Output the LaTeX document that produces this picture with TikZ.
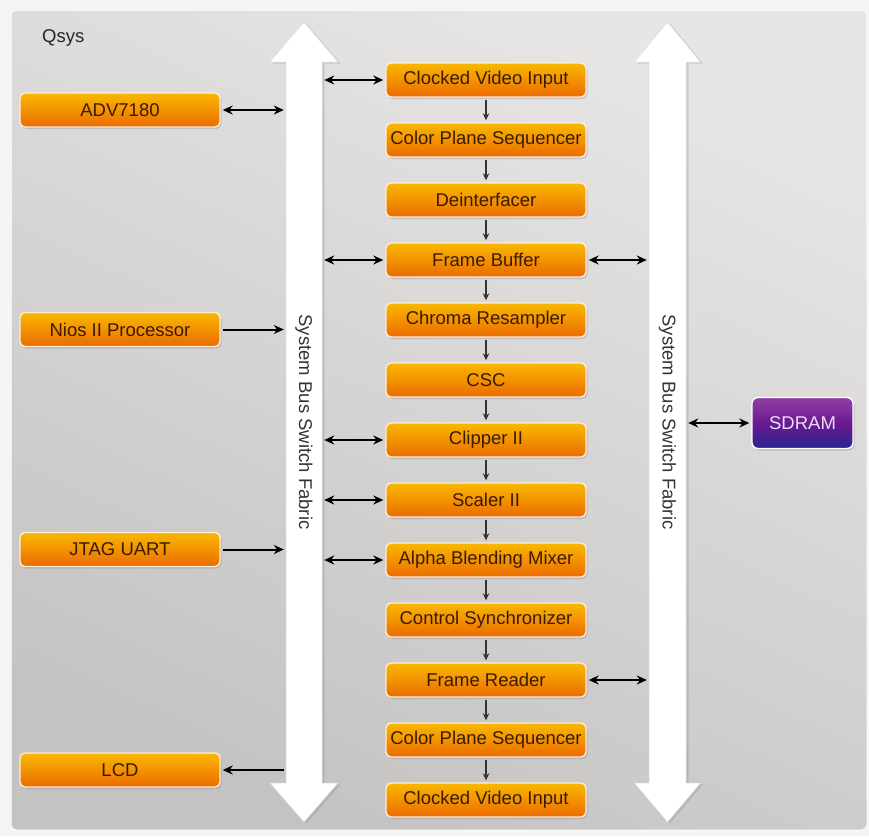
\documentclass[tikz,border=0pt]{standalone}
\usepackage{fontspec}
\setmainfont{Liberation Sans}
\usetikzlibrary{arrows.meta,shadows,calc}

\definecolor{pagebg}{HTML}{F4F4F4}
\definecolor{paneltop}{HTML}{E8E6E4}
\definecolor{panelbot}{HTML}{C4C3C1}
\definecolor{orangetop}{HTML}{F8B800}
\definecolor{orangemid}{HTML}{F39200}
\definecolor{orangebot}{HTML}{E96A00}
\definecolor{boxtext}{HTML}{3A1B00}
\definecolor{purpletop}{HTML}{923FA3}
\definecolor{purplemid}{HTML}{6A1A92}
\definecolor{purplebot}{HTML}{2A2390}
\definecolor{sdramtext}{HTML}{EBDDF5}
\definecolor{linkgray}{HTML}{333333}

\begin{document}
\begin{tikzpicture}[x=1pt,y=-1pt,
  lbl/.style={font=\fontsize{18.5}{22}\selectfont},
  ipblock/.style={lbl, text=boxtext, rounded corners=5pt, minimum width=200pt,
    minimum height=34pt, inner sep=0pt, draw=white!85!orange, line width=1.4pt,
    top color=orangetop, bottom color=orangebot, middle color=orangemid,
    drop shadow={shadow xshift=1.5pt, shadow yshift=-2pt, opacity=0.3}},
  memblock/.style={lbl, text=sdramtext, rounded corners=6pt, minimum width=101pt,
    minimum height=51pt, inner sep=0pt, draw=white, line width=1.4pt,
    top color=purpletop, bottom color=purplebot, middle color=purplemid,
    drop shadow={shadow xshift=1.5pt, shadow yshift=-2pt, opacity=0.3}},
  busshaft/.style={minimum width=#1, minimum height=721pt, inner sep=0pt},
  busarrow/.style={fill=white, draw=black!12, line width=0.5pt,
    drop shadow={shadow xshift=2.5pt, shadow yshift=-1.5pt, opacity=0.25}},
  link/.style={line width=2pt, shorten <=2pt, shorten >=2pt},
  both/.style={link, {Stealth[length=10pt,width=9pt]}-{Stealth[length=10pt,width=9pt]}},
  tobus/.style={link, -{Stealth[length=10pt,width=9pt]}},
  flow/.style={draw=linkgray, line width=1.6pt, shorten <=2pt, shorten >=2pt,
    -{Stealth[length=7pt,width=6.5pt]}},
]

% page and panel
\useasboundingbox (0,0) rectangle (869,836);
\fill[pagebg] (0,0) rectangle (869,836);
\shade[draw=white, line width=1pt, rounded corners=5pt,
  top color=paneltop, bottom color=panelbot, shading angle=-25]
  (11,10) rectangle (867,830);

\node[lbl, text=black!85, anchor=west, inner sep=0pt] (qsys) at (42,38) {Qsys};

% system bus fabrics
\path[busarrow] (304,22) -- (338,62) -- (322,62) -- (322,783) -- (338,783)
  -- (304,822) -- (270,783) -- (286,783) -- (286,62) -- (270,62) -- cycle;
\path[busarrow] (667.5,22) -- (700.5,62) -- (686,62) -- (686,783) -- (700.5,783)
  -- (667.5,822) -- (634.5,783) -- (649,783) -- (649,62) -- (634.5,62) -- cycle;
\node[busshaft=36pt] (lbus) at (304,422.5) {};
\node[busshaft=37pt] (rbus) at (667.5,422.5) {};
\node[lbl, text=black!80, rotate=-90] (lbustext) at (304,422) {System Bus Switch Fabric};
\node[lbl, text=black!80, rotate=-90] (rbustext) at (667.5,422) {System Bus Switch Fabric};

% peripherals on the left
\node[ipblock] (adv)  at (120,110) {ADV7180};
\node[ipblock] (nios) at (120,329.5) {Nios II Processor};
\node[ipblock] (jtag) at (120,549.5) {JTAG UART};
\node[ipblock] (lcd)  at (120,770) {LCD};

% video pipeline
\node[ipblock] (cvi)  at (486,80)  {Clocked Video Input};
\node[ipblock] (cps)  at (486,140) {Color Plane Sequencer};
\node[ipblock] (dei)  at (486,200) {Deinterfacer};
\node[ipblock] (fb)   at (486,260) {Frame Buffer};
\node[ipblock] (cr)   at (486,320) {Chroma Resampler};
\node[ipblock] (csc)  at (486,380) {CSC};
\node[ipblock] (clip) at (486,440) {Clipper II};
\node[ipblock] (scl)  at (486,500) {Scaler II};
\node[ipblock] (abm)  at (486,560) {Alpha Blending Mixer};
\node[ipblock] (sync) at (486,620) {Control Synchronizer};
\node[ipblock] (fr)   at (486,680) {Frame Reader};
\node[ipblock] (cpso) at (486,740) {Color Plane Sequencer};
\node[ipblock] (cvo)  at (486,800) {Clocked Video Input};

% memory
\node[memblock] (sdram) at (802.5,423) {SDRAM};

% pipeline flow
\foreach \a/\b in {cvi/cps, cps/dei, dei/fb, fb/cr, cr/csc, csc/clip, clip/scl,
                   scl/abm, abm/sync, sync/fr, fr/cpso, cpso/cvo}
  \draw[flow] (\a.south) -- (\b.north);

% bus connections
\draw[both] (adv.east) -- (adv.east -| lbus.west);
\draw[tobus] (nios.east) -- (nios.east -| lbus.west);
\draw[tobus] (jtag.east) -- (jtag.east -| lbus.west);
\draw[tobus] (lcd.east -| lbus.west) -- (lcd.east);
\foreach \n in {cvi, fb, clip, scl, abm}
  \draw[both] (\n.west -| lbus.east) -- (\n.west);
\foreach \n in {fb, fr}
  \draw[both] (\n.east) -- (\n.east -| rbus.west);
\draw[both] (sdram.west -| rbus.east) -- (sdram.west);

\end{tikzpicture}
\end{document}
